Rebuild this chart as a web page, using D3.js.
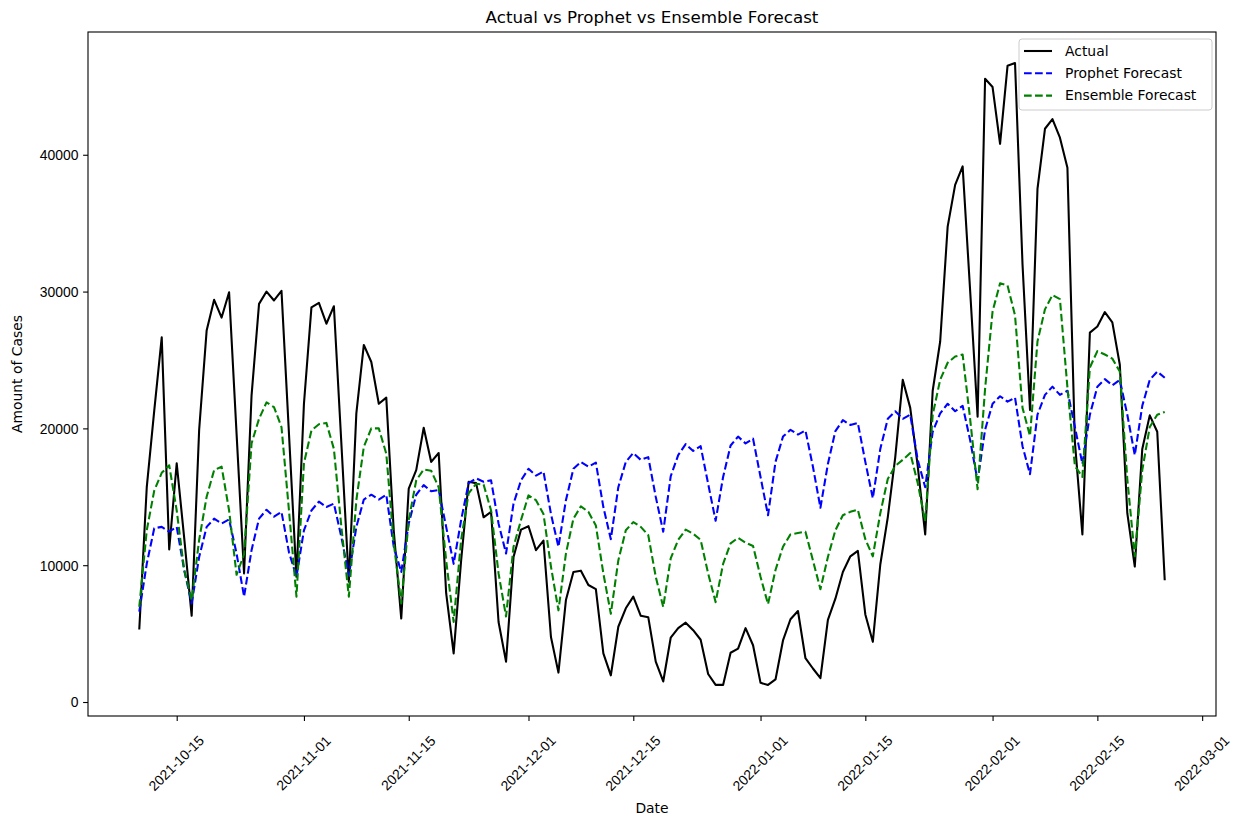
<!DOCTYPE html>
<html>
<head>
<meta charset="utf-8">
<script src="https://cdn.jsdelivr.net/npm/d3@7"></script>
<style>
body { margin: 0; background: #fff; }
svg { font-family: "DejaVu Sans", sans-serif; }
</style>
</head>
<body>
<svg id="chart" width="1248" height="816"></svg>
<script>
// daily series, first day 2021-10-10
var startDate = "2021-10-10";

var actual = [5300, 15700, 21300, 26650, 11150, 17450, 12000, 6300, 19900, 27150,
  29400, 28100, 29950, 19600, 9400, 22400, 29100, 30000, 29350, 30050,
  19600, 9150, 21800, 28850, 29180, 27650, 28930, 18900, 8800, 21100,
  26100, 24850, 21800, 22250, 12500, 6100, 15600, 16950, 20050, 17550,
  18200, 7950, 3550, 10350, 16100, 16000, 13500, 13900, 5850, 2950,
  10600, 12600, 12850, 11100, 11800, 4750, 2150, 7450, 9500, 9600,
  8550, 8250, 3550, 1950, 5500, 6850, 7700, 6300, 6200, 2950,
  1500, 4700, 5400, 5800, 5250, 4550, 2050, 1250, 1250, 3600,
  3900, 5400, 4150, 1400, 1250, 1650, 4500, 6050, 6650, 3200,
  2450, 1750, 6000, 7550, 9500, 10650, 11050, 6400, 4400, 10050,
  13500, 17900, 23550, 21500, 17250, 12250, 22750, 26350, 34750, 37800,
  39150, 30100, 20850, 45550, 44950, 40800, 46500, 46700, 32000, 21350,
  37500, 41900, 42600, 41250, 39050, 19000, 12250, 27000, 27450, 28500,
  27750, 24650, 13800, 9900, 18500, 20950, 19750, 8900];

var prophet = [6600, 10100, 12700, 12800, 12450, 12800, 9650, 7200, 10600, 12800,
  13400, 13050, 13350, 10850, 7700, 11100, 13400, 14050, 13550, 13900,
  10950, 9150, 12550, 14000, 14650, 14250, 14500, 12050, 9250, 12800,
  14800, 15150, 14800, 15150, 11350, 9500, 13050, 15150, 15850, 15400,
  15500, 12800, 10100, 13300, 16000, 16350, 16100, 16200, 13050, 10850,
  14500, 16200, 17050, 16550, 16850, 13750, 11350, 14750, 17050, 17550,
  17200, 17500, 14250, 11900, 15700, 17550, 18200, 17700, 17900, 15000,
  12450, 16500, 18050, 18850, 18350, 18700, 15950, 13250, 16450, 18750,
  19400, 18900, 19250, 16450, 13650, 17550, 19400, 19900, 19550, 19850,
  17200, 14200, 17400, 19800, 20600, 20250, 20400, 17550, 14900, 18500,
  20700, 21250, 20700, 21000, 17700, 15700, 19750, 21100, 21800, 21250,
  21650, 19150, 16150, 19900, 21800, 22350, 21950, 22250, 18700, 16650,
  21000, 22450, 23050, 22450, 22750, 20100, 17400, 21000, 23050, 23600,
  23150, 23550, 21000, 18050, 21650, 23550, 24150, 23700];

var ensemble = [6950, 12550, 15450, 16750, 17300, 14000, 9650, 7450, 11850, 15000,
  16950, 17200, 14000, 9300, 10800, 18900, 20700, 21900, 21550, 20100,
  14000, 7700, 17450, 19850, 20300, 20400, 18500, 12800, 7700, 14750,
  18650, 20000, 20000, 18150, 11600, 7200, 13300, 16200, 17000, 16900,
  15700, 10350, 5850, 11850, 15250, 15950, 15900, 14000, 9400, 6250,
  11350, 13300, 15100, 14750, 13750, 9900, 6700, 10850, 13400, 14300,
  13900, 12900, 9400, 6450, 10350, 12550, 13150, 12800, 12200, 9150,
  6950, 10500, 11850, 12600, 12300, 11850, 9400, 7300, 10100, 11600,
  12000, 11650, 11400, 9150, 7150, 9650, 11350, 12250, 12350, 12450,
  10350, 8250, 10600, 12550, 13650, 13900, 14050, 11900, 10650, 13800,
  16300, 17250, 17700, 18200, 16000, 13200, 21000, 23550, 24800, 25250,
  25400, 20700, 15550, 22900, 28550, 30600, 30450, 28250, 21500, 19450,
  26350, 28700, 29750, 29450, 23000, 17250, 16450, 24450, 25650, 25400,
  25100, 24150, 16300, 10650, 16950, 20100, 21000, 21200];

var tickDates = ["2021-10-15", "2021-11-01", "2021-11-15", "2021-12-01", "2021-12-15",
  "2022-01-01", "2022-01-15", "2022-02-01", "2022-02-15", "2022-03-01"];
var yTicks = [0, 10000, 20000, 30000, 40000];

var seriesNames = ["Actual", "Prophet Forecast", "Ensemble Forecast"];
var seriesColors = ["#000000", "#0000ff", "#008000"];
var seriesDash = [null, "7.7,3.33", "7.7,3.33"];

var margin = {top: 32, right: 32, bottom: 100, left: 88},
    width = 1248 - margin.left - margin.right,
    height = 816 - margin.top - margin.bottom;

var parse = d3.utcParse("%Y-%m-%d");
var day0 = parse(startDate);
var dates = actual.map(function(d, i) { return d3.utcDay.offset(day0, i); });

var svg = d3.select("#chart");
var g = svg.append("g").attr("transform", "translate(" + margin.left + "," + margin.top + ")");

// matplotlib style 5% padding
var span = (dates[dates.length - 1] - dates[0]) * 0.05;
var x = d3.scaleUtc()
    .domain([new Date(+dates[0] - span), new Date(+dates[dates.length - 1] + span)])
    .range([0, width]);

var all = actual.concat(prophet, ensemble);
var ymin = d3.min(all), ymax = d3.max(all), pad = (ymax - ymin) * 0.05;
var y = d3.scaleLinear()
    .domain([ymin - pad, ymax + pad])
    .range([height, 0]);

// axes
var xAxis = g.append("g")
    .attr("transform", "translate(0," + height + ")")
    .call(d3.axisBottom(x).tickValues(tickDates.map(parse)).tickSize(4.9).tickFormat(d3.utcFormat("%Y-%m-%d")));
xAxis.select(".domain").remove();
xAxis.selectAll(".tick line").attr("stroke", "#000").attr("stroke-width", 1.1);
xAxis.selectAll(".tick text")
    .attr("y", 0).attr("dy", 0)
    .attr("transform", "translate(-1,47) rotate(-45)")
    .attr("text-anchor", "middle")
    .attr("dominant-baseline", "central")
    .style("font-size", "13.9px")
    .attr("fill", "#000");

var yAxis = g.append("g")
    .call(d3.axisLeft(y).tickValues(yTicks).tickSize(4.9).tickFormat(d3.format("d")));
yAxis.select(".domain").remove();
yAxis.selectAll(".tick line").attr("stroke", "#000").attr("stroke-width", 1.1);
yAxis.selectAll(".tick text")
    .attr("x", -9.5)
    .attr("dy", "0.35em")
    .style("font-size", "13.9px")
    .attr("fill", "#000");

// lines
var series = [actual, prophet, ensemble];
var line = d3.line()
    .x(function(d, i) { return x(dates[i]); })
    .y(function(d) { return y(d); });

g.append("g").selectAll("path")
    .data(series)
    .enter().append("path")
    .attr("d", line)
    .attr("fill", "none")
    .attr("stroke", function(d, i) { return seriesColors[i]; })
    .attr("stroke-width", 2.08)
    .attr("stroke-dasharray", function(d, i) { return seriesDash[i]; })
    .attr("stroke-linejoin", "round");

// frame
g.append("rect")
    .attr("width", width).attr("height", height)
    .attr("fill", "none").attr("stroke", "#000").attr("stroke-width", 1.1);

// title and labels
svg.append("text").text("Actual vs Prophet vs Ensemble Forecast")
    .attr("x", margin.left + width / 2).attr("y", 23)
    .attr("text-anchor", "middle").style("font-size", "16.7px");
svg.append("text").text("Date")
    .attr("x", margin.left + width / 2).attr("y", 813)
    .attr("text-anchor", "middle").style("font-size", "13.9px");
svg.append("text").text("Amount of Cases")
    .attr("transform", "translate(22," + (margin.top + height / 2) + ") rotate(-90)")
    .attr("text-anchor", "middle").style("font-size", "13.9px");

// legend
var leg = g.append("g").attr("transform", "translate(" + (width - 197) + ",7)");
leg.append("rect")
    .attr("width", 193).attr("height", 71).attr("rx", 3)
    .attr("fill", "#fff").attr("fill-opacity", 0.8)
    .attr("stroke", "#cccccc").attr("stroke-width", 1);
var item = leg.selectAll(".item")
    .data(seriesNames)
    .enter().append("g")
    .attr("transform", function(d, i) { return "translate(0," + (12 + i * 22.3) + ")"; });
item.append("line")
    .attr("x1", 5).attr("x2", 33)
    .attr("stroke", function(d, i) { return seriesColors[i]; })
    .attr("stroke-width", 2.08)
    .attr("stroke-dasharray", function(d, i) { return seriesDash[i]; });
item.append("text").text(function(d) { return d; })
    .attr("x", 46).attr("dy", "0.35em")
    .style("font-size", "13.9px");
</script>
</body>
</html>
